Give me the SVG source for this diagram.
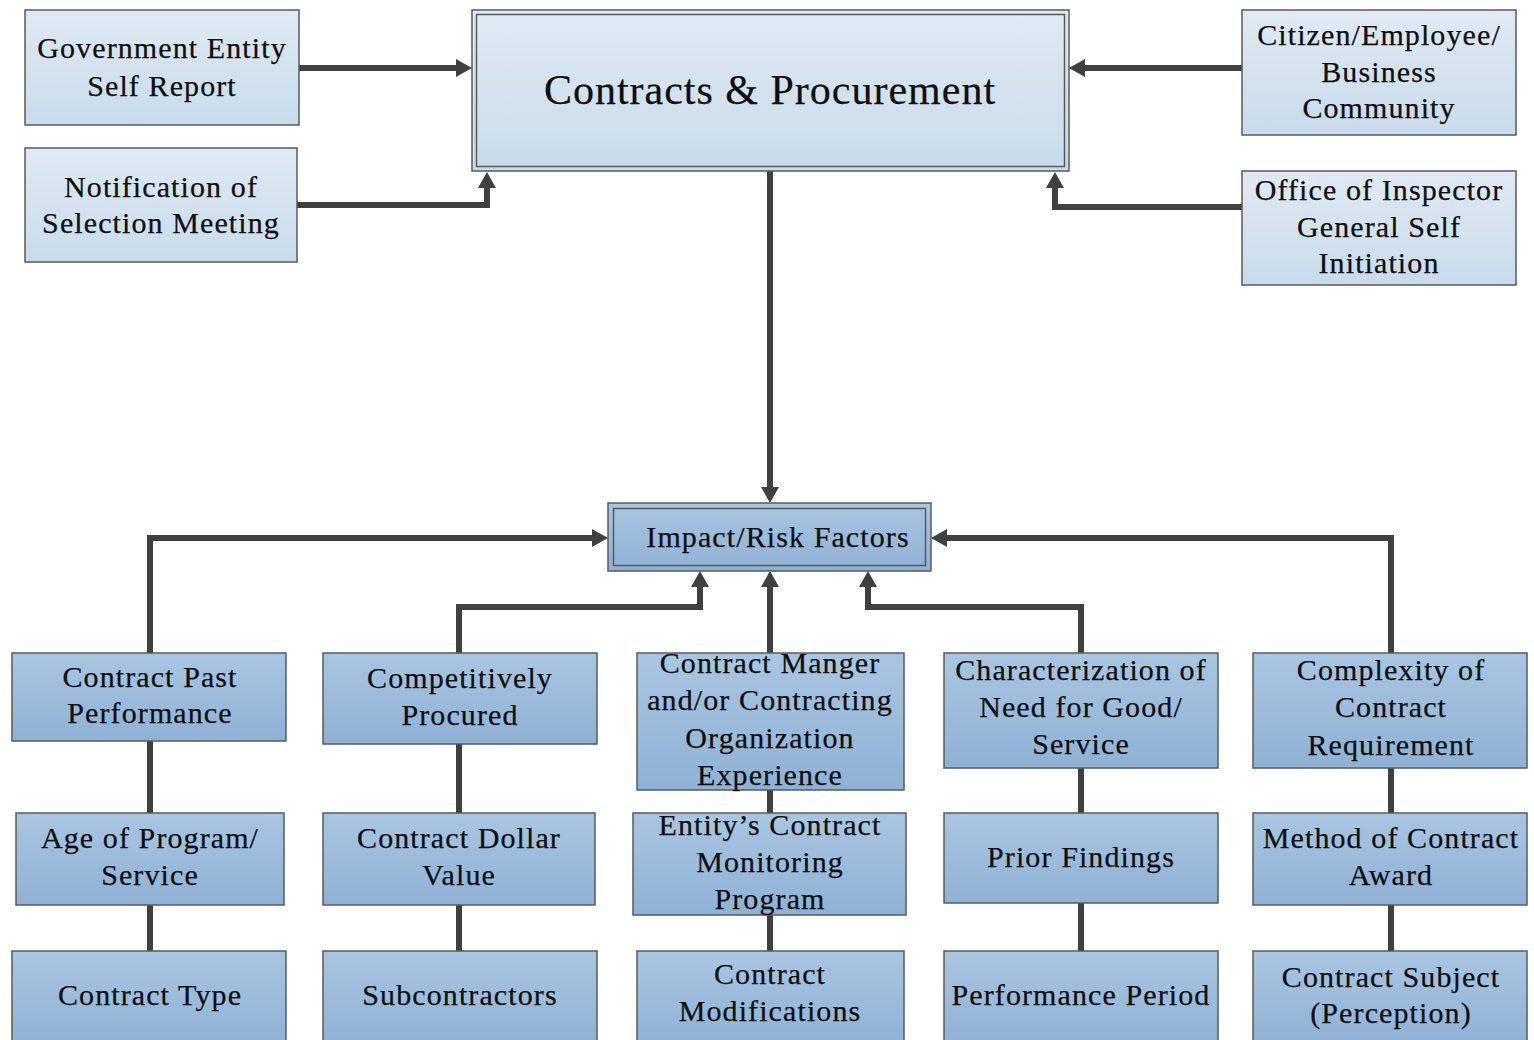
<svg xmlns="http://www.w3.org/2000/svg" width="1534" height="1040" viewBox="0 0 1534 1040">
  <defs>
    <linearGradient id="gLight" x1="0" y1="0" x2="0" y2="1">
      <stop offset="0" stop-color="#e0eaf3"/>
      <stop offset="1" stop-color="#c8dbeb"/>
    </linearGradient>
    <linearGradient id="gDark" x1="0" y1="0" x2="0" y2="1">
      <stop offset="0" stop-color="#a9c6e1"/>
      <stop offset="1" stop-color="#8fb1d4"/>
    </linearGradient>
    <marker id="arr" viewBox="0 0 16 18" markerWidth="16" markerHeight="18" refX="1" refY="9" orient="auto" markerUnits="userSpaceOnUse">
      <path d="M0,0 L16,9 L0,18 z" fill="#404040"/>
    </marker>
    <style>
      .box { stroke: #5a5a5a; stroke-width: 1.5; }
      .light { fill: url(#gLight); }
      .dark { fill: url(#gDark); }
      .inner { fill: none; stroke: #5a5a5a; stroke-width: 1.5; }
      text { font-family: "Liberation Serif", "Times New Roman", serif; font-size: 30px; fill: #0f0f0f; text-anchor: middle; letter-spacing: 1.1px; stroke: #0f0f0f; stroke-width: 0.25px; }
      .big { font-size: 42px; letter-spacing: 1px; }
      .conn { fill: none; stroke: #404040; stroke-width: 6; stroke-linejoin: miter; }
    </style>
  </defs>
  <rect width="1534" height="1040" fill="#ffffff"/>

  <g id="connectors">
    <path class="conn" d="M299,68 H457" marker-end="url(#arr)"/>
    <path class="conn" d="M297,205 H487 V187" marker-end="url(#arr)"/>
    <path class="conn" d="M1242,68 H1084" marker-end="url(#arr)"/>
    <path class="conn" d="M1242,207 H1055 V187" marker-end="url(#arr)"/>
    <path class="conn" d="M770,171 V488" marker-end="url(#arr)"/>
    <path class="conn" d="M150,653 V538 H593" marker-end="url(#arr)"/>
    <path class="conn" d="M1391,653 V538 H946" marker-end="url(#arr)"/>
    <path class="conn" d="M459,653 V607 H700 V586" marker-end="url(#arr)"/>
    <path class="conn" d="M770,653 V586" marker-end="url(#arr)"/>
    <path class="conn" d="M1081,653 V607 H868 V586" marker-end="url(#arr)"/>
    <path class="conn" d="M150,741 V813 M150,905 V951"/>
    <path class="conn" d="M459,744 V813 M459,905 V951"/>
    <path class="conn" d="M770,790 V813 M770,915 V951"/>
    <path class="conn" d="M1081,768 V813 M1081,903 V951"/>
    <path class="conn" d="M1391,768 V813 M1391,905 V951"/>
  </g>

  <g id="gov-self-report">
    <rect class="box light" x="25" y="10" width="274" height="115"/>
    <text x="162" y="58">Government Entity</text>
    <text x="162" y="96">Self Report</text>
  </g>
  <g id="notification">
    <rect class="box light" x="25" y="148" width="272" height="114"/>
    <text x="161" y="197">Notification of</text>
    <text x="161" y="233">Selection Meeting</text>
  </g>
  <g id="contracts-procurement">
    <rect class="box light" x="472" y="10" width="597" height="161"/>
    <rect class="inner" x="476.5" y="14.5" width="588" height="152"/>
    <text class="big" x="770" y="104">Contracts &amp; Procurement</text>
  </g>
  <g id="citizen">
    <rect class="box light" x="1242" y="10" width="274" height="125"/>
    <text x="1379" y="45">Citizen/Employee/</text>
    <text x="1379" y="82">Business</text>
    <text x="1379" y="118">Community</text>
  </g>
  <g id="oig">
    <rect class="box light" x="1242" y="171" width="274" height="114"/>
    <text x="1379" y="200">Office of Inspector</text>
    <text x="1379" y="237">General Self</text>
    <text x="1379" y="273">Initiation</text>
  </g>

  <g id="impact-risk">
    <rect class="box dark" x="608" y="503" width="323" height="68"/>
    <rect class="inner" x="613.5" y="508.5" width="312" height="57"/>
    <text x="778" y="547">Impact/Risk Factors</text>
  </g>

  <g id="past-performance">
    <rect class="box dark" x="12" y="653" width="274" height="88"/>
    <text x="150" y="687">Contract Past</text>
    <text x="150" y="723">Performance</text>
  </g>
  <g id="competitively-procured">
    <rect class="box dark" x="323" y="653" width="274" height="91"/>
    <text x="460" y="688">Competitively</text>
    <text x="460" y="725">Procured</text>
  </g>
  <g id="contract-manager">
    <rect class="box dark" x="637" y="653" width="267" height="137"/>
    <text x="770" y="673">Contract Manger</text>
    <text x="770" y="710">and/or Contracting</text>
    <text x="770" y="748">Organization</text>
    <text x="770" y="785">Experience</text>
  </g>
  <g id="characterization">
    <rect class="box dark" x="944" y="653" width="274" height="115"/>
    <text x="1081" y="680">Characterization of</text>
    <text x="1081" y="717">Need for Good/</text>
    <text x="1081" y="754">Service</text>
  </g>
  <g id="complexity">
    <rect class="box dark" x="1253" y="653" width="274" height="115"/>
    <text x="1391" y="680">Complexity of</text>
    <text x="1391" y="717">Contract</text>
    <text x="1391" y="755">Requirement</text>
  </g>

  <g id="age-of-program">
    <rect class="box dark" x="16" y="813" width="268" height="92"/>
    <text x="150" y="848">Age of Program/</text>
    <text x="150" y="885">Service</text>
  </g>
  <g id="dollar-value">
    <rect class="box dark" x="323" y="813" width="272" height="92"/>
    <text x="459" y="848">Contract Dollar</text>
    <text x="459" y="885">Value</text>
  </g>
  <g id="monitoring-program">
    <rect class="box dark" x="633" y="813" width="273" height="102"/>
    <text x="770" y="835">Entity’s Contract</text>
    <text x="770" y="872">Monitoring</text>
    <text x="770" y="909">Program</text>
  </g>
  <g id="prior-findings">
    <rect class="box dark" x="944" y="813" width="274" height="90"/>
    <text x="1081" y="867">Prior Findings</text>
  </g>
  <g id="method-award">
    <rect class="box dark" x="1253" y="813" width="274" height="92"/>
    <text x="1391" y="848">Method of Contract</text>
    <text x="1391" y="885">Award</text>
  </g>

  <g id="contract-type">
    <rect class="box dark" x="12" y="951" width="274" height="95"/>
    <text x="150" y="1005">Contract Type</text>
  </g>
  <g id="subcontractors">
    <rect class="box dark" x="323" y="951" width="274" height="95"/>
    <text x="460" y="1005">Subcontractors</text>
  </g>
  <g id="modifications">
    <rect class="box dark" x="637" y="951" width="267" height="95"/>
    <text x="770" y="984">Contract</text>
    <text x="770" y="1021">Modifications</text>
  </g>
  <g id="performance-period">
    <rect class="box dark" x="944" y="951" width="274" height="95"/>
    <text x="1081" y="1005">Performance Period</text>
  </g>
  <g id="contract-subject">
    <rect class="box dark" x="1253" y="951" width="274" height="95"/>
    <text x="1391" y="987">Contract Subject</text>
    <text x="1391" y="1023">(Perception)</text>
  </g>
</svg>
